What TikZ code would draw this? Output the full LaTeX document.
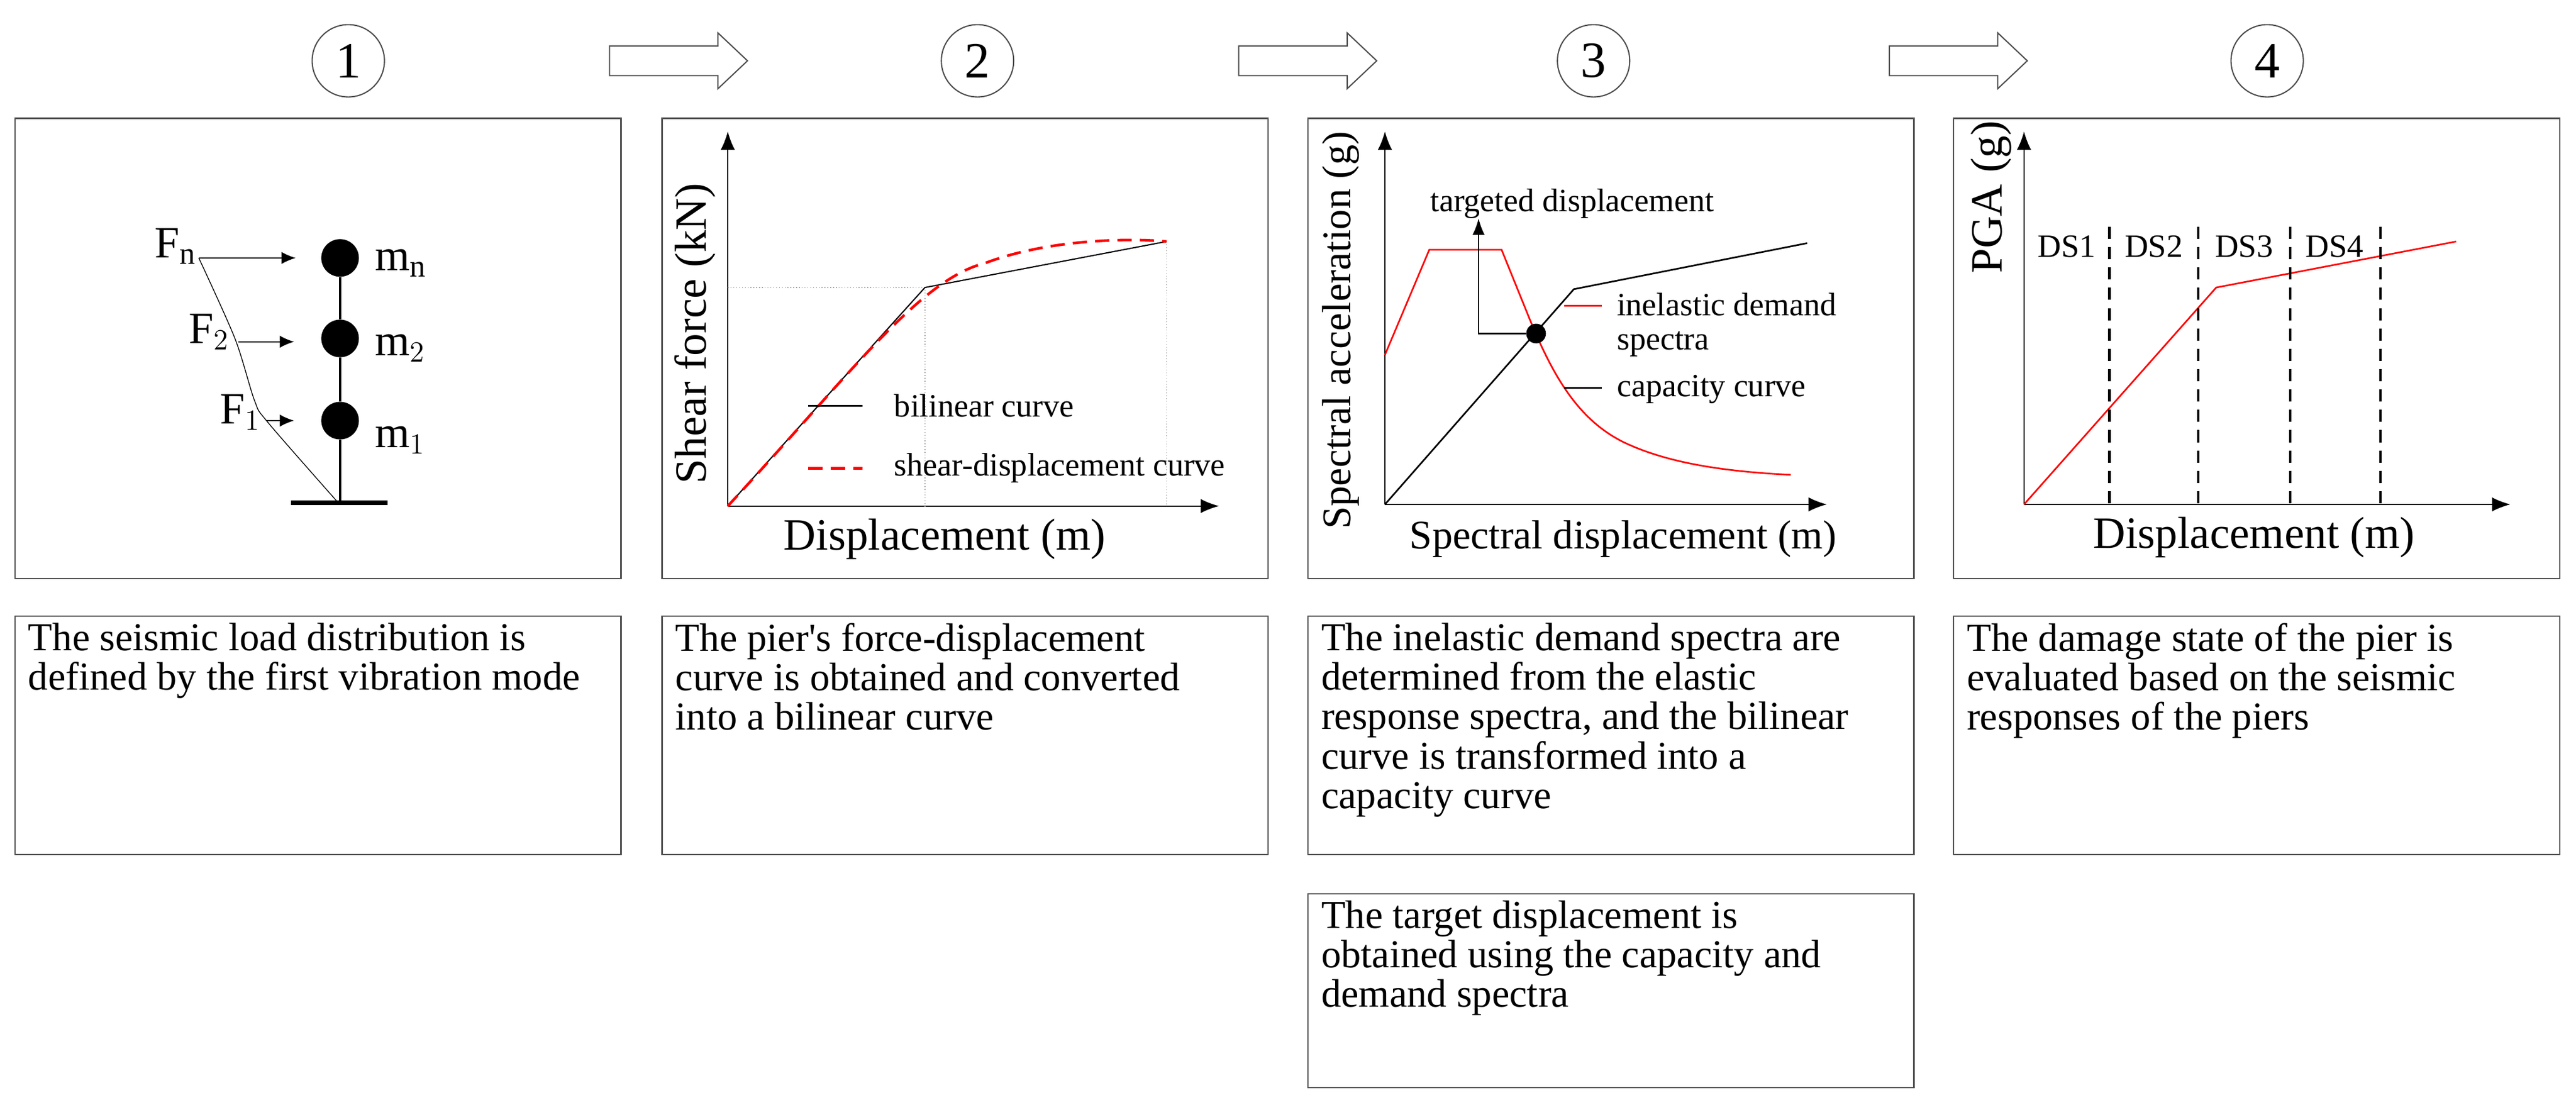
\documentclass[tikz,border=0pt]{standalone}
\usepackage{fontspec}
\setmainfont{Liberation Serif}
\usetikzlibrary{arrows.meta}
\begin{document}
\begin{tikzpicture}[x=0.0284cm,y=-0.0284cm,
  box/.style={draw=black!70,line width=0.6pt},
  txt/.style={anchor=north west,align=left,font=\fontsize{19.5}{19.4}\selectfont,inner sep=0pt},
  num/.style={circle,draw=black!70,line width=0.6pt,minimum size=1.25cm,font=\fontsize{25}{27}\selectfont},
  blk/.style={draw=black!70,line width=0.6pt,fill=white},
  ax/.style={line width=0.6pt,-{Latex[length=9pt,width=7pt]}},
  lab/.style={font=\fontsize{22}{24}\selectfont},
  slab/.style={font=\fontsize{20}{22}\selectfont},
  leg/.style={font=\fontsize{16}{17}\selectfont,anchor=west},
  mass/.style={circle,fill=black,minimum size=0.65cm,inner sep=0pt},
  fa/.style={line width=0.5pt,-{Latex[length=7pt,width=6pt]}}]
\useasboundingbox (0,0) rectangle (1568,672.5);
% numbers
\node[num] (n1) at (212,37) {1};
\node[num] (n2) at (595,37) {2};
\node[num] (n3) at (970,37) {3};
\node[num] (n4) at (1380,37) {4};
% block arrows
\foreach \a in {371,754,1150}{
  \draw[blk] (\a,28) -- (\a+66,28) -- (\a+66,20) -- (\a+84,37) -- (\a+66,54) -- (\a+66,46) -- (\a,46) -- cycle;}
% boxes
\foreach \a in {9,403,796,1189}{
  \draw[box] (\a,72) rectangle (\a+369,352);
  \draw[box] (\a,375) rectangle (\a+369,520);}
\draw[box] (796,544) rectangle (1165,662);
% texts
\node[txt] (t1) at (17,379) {The seismic load distribution is\\defined by the first vibration mode};
\node[txt] (t2) at (411,379) {The pier\textquotesingle s force-displacement\\curve is obtained and converted\\into a bilinear curve};
\node[txt] (t3) at (804,379) {The inelastic demand spectra are\\determined from the elastic\\response spectra, and the bilinear\\curve is transformed into a\\capacity curve};
\node[txt] (t3b) at (804,548) {The target displacement is\\obtained using the capacity and\\demand spectra};
\node[txt] (t4) at (1197,379) {The damage state of the pier is\\evaluated based on the seismic\\responses of the piers};
% ---- panel 1
\coordinate (g0) at (207,305);
\draw[line width=2.2pt] (177,306) -- (236,306);
\node[mass] (mn) at (207,157) {};
\node[mass] (m2) at (207,206) {};
\node[mass] (m1) at (207,256) {};
\draw[line width=1pt] (mn) -- (m2) -- (m1) -- (g0);
\draw[line width=0.4pt] plot[smooth] coordinates {(121,157) (143,206) (155,244) (163,257) (205,305)};
\coordinate (fn0) at (121,157); \coordinate (f20) at (145,208); \coordinate (f10) at (162,256);
\draw[fa] (fn0) -- (180,157);
\draw[fa] (f20) -- (179,208);
\draw[fa] (f10) -- (179,256);
\node[lab,anchor=east,inner sep=1pt] (lfn) at (121,150) {F$_{\mathrm{n}}$};
\node[lab,anchor=east,inner sep=1pt] (lf2) at (141,202) {F$_{2}$};
\node[lab,anchor=east,inner sep=1pt] (lf1) at (160,251) {F$_{1}$};
\node[lab,anchor=west] (lmn) at (224,160) {m$_{\mathrm{n}}$};
\node[lab,anchor=west] (lm2) at (224,212) {m$_{2}$};
\node[lab,anchor=west] (lm1) at (224,268) {m$_{1}$};
% ---- panel 2
\coordinate (o2) at (443,308);
\draw[ax] (o2) -- (443,80);
\draw[ax] (o2) -- (742,308);
\draw[densely dotted,black!35] (443,175) -- (563,175) -- (563,308);
\draw[densely dotted,black!35] (710,147) -- (710,308);
\draw[line width=0.6pt] (o2) -- (563,175) -- (710,147);
\draw[red,dash pattern=on 7pt off 4pt,line width=1.3pt] (o2) .. controls (520,225) and (560,170) .. (600,160) .. controls (640,145) and (690,145) .. (710,147);
\draw[line width=0.6pt] (492,247) -- (525,247);
\node[leg] at (540,247) {bilinear curve};
\draw[red,dash pattern=on 7pt off 4pt,line width=1.3pt] (492,285) -- (525,285);
\node[leg] at (540,285) {shear-displacement curve};
\node[lab,rotate=90] at (423,203) {Shear force (kN)};
\node[lab] at (575,328) {Displacement (m)};
% ---- panel 3
\coordinate (o3) at (843,307);
\draw[ax] (o3) -- (843,80);
\draw[ax] (o3) -- (1112,307);
\draw[red,line width=0.8pt] (843,216) -- (870,152) -- (914,152) -- (931,194) .. controls (945,228) and (960,255) .. (988,269) .. controls (1015,282) and (1050,287) .. (1090,289);
\draw[line width=0.8pt] (o3) -- (958,176) -- (1100,148);
\node[circle,fill=black,minimum size=0.34cm,inner sep=0pt] (dot) at (935,203) {};
\draw[line width=0.6pt,-{Latex[length=8pt,width=6pt]}] (dot) -- (900,203) -- (900,133);
\node[leg,anchor=center] at (957,124) {targeted displacement};
\draw[red,line width=0.8pt] (952,186) -- (975,186);
\node[leg,align=left,anchor=north west,inner sep=0pt] at (984,178) {inelastic demand\\spectra};
\draw[line width=0.8pt] (952,236) -- (975,236);
\node[leg] at (980,237) {capacity curve};
\node[slab,rotate=90] at (816,201) {Spectral acceleration (g)};
\node[slab] at (988,328) {Spectral displacement (m)};
% ---- panel 4
\coordinate (o4) at (1232,307);
\draw[ax] (o4) -- (1232,80);
\draw[ax] (o4) -- (1528,307);
\draw[red,line width=0.8pt] (o4) -- (1349,175) -- (1495,147);
\foreach \xx/\l/\lx in {1284/DS1/1258,1338/DS2/1311,1394/DS3/1366,1449/DS4/1421}{
  \draw[dash pattern=on 6pt off 4pt,line width=1.2pt] (\xx,138) -- (\xx,307);
  \node[leg,anchor=center] at (\lx,150) {\l};}
\node[lab,rotate=90] at (1212,120) {PGA (g)};
\node[lab] at (1372,327) {Displacement (m)};
\end{tikzpicture}
\end{document}
